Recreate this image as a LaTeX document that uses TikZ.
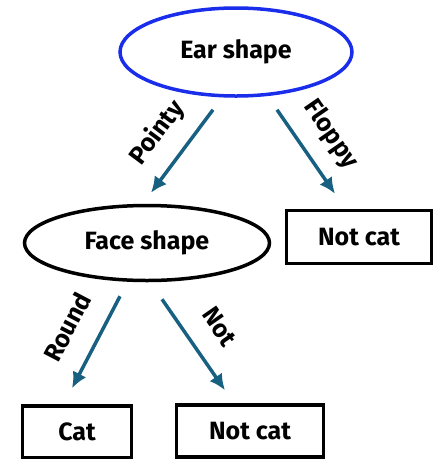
\documentclass[tikz,border=0pt]{standalone}
\usepackage{fontspec}
\setmainfont{Fira Sans}
\usetikzlibrary{shapes.geometric, arrows.meta}
\definecolor{EarBlue}{RGB}{25,45,235}
\definecolor{BranchTeal}{RGB}{24,96,130}

\begin{document}
\begin{tikzpicture}[x=1pt, y=-1pt,
    every node/.style={font=\fontsize{25}{30}\selectfont\bfseries},
    decision/.style={ellipse, draw, line width=3.5pt, inner sep=0pt},
    leaf/.style={rectangle, draw, line width=3.5pt, inner sep=0pt},
    branch/.style={-{Latex[length=16pt, width=15pt]}, line width=3.5pt, BranchTeal},
    branchlabel/.style={midway, sloped, text=black, inner sep=0pt, text height=18pt, text depth=5pt, yshift=30pt}]
  \useasboundingbox (0,0) rectangle (434,459);
  \node[decision, EarBlue, text=black, minimum width=232, minimum height=88] (ear) at (236,52) {Ear shape};
  \node[decision, minimum width=245, minimum height=75] (face) at (147,243) {Face shape};
  \node[leaf, minimum width=145, minimum height=53] (notcatA) at (359,237) {Not cat};
  \node[leaf, minimum width=109, minimum height=52] (cat) at (77,432) {Cat};
  \node[leaf, minimum width=147, minimum height=52] (notcatB) at (250,431) {Not cat};
  \draw[branch] ([xshift=-23pt, yshift=-12pt]ear.south) -- ([xshift=4pt, yshift=11pt]face.north) node[branchlabel] {Pointy};
  \draw[branch] ([xshift=41pt, yshift=-12pt]ear.south) -- ([xshift=-24pt, yshift=15pt]notcatA.north) node[branchlabel] {Floppy};
  \draw[branch] ([xshift=-27pt, yshift=-14pt]face.south) -- ([xshift=-5pt, yshift=16pt]cat.north) node[branchlabel] {Round};
  \draw[branch] ([xshift=15pt, yshift=-17pt]face.south) -- ([xshift=-25pt, yshift=13pt]notcatB.north) node[branchlabel] {Not};
\end{tikzpicture}
\end{document}
